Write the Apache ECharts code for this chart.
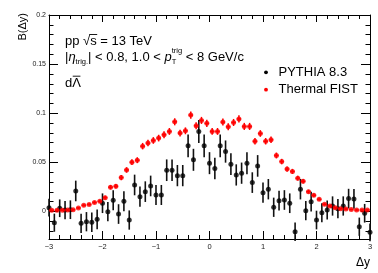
<!DOCTYPE html>
<html><head><meta charset="utf-8">
<script src="https://cdn.jsdelivr.net/npm/echarts@6/dist/echarts.min.js"></script>
<style>html,body{margin:0;padding:0;background:#fff}#c{width:378px;height:273px}</style>
</head><body><div id="c"></div>
<script>
// ---- data ----
const redX = [-2.95,-2.85,-2.75,-2.65,-2.55,-2.45,-2.35,-2.25,-2.15,-2.05,
  -1.95,-1.85,-1.75,-1.65,-1.55,-1.45,-1.35,-1.25,-1.15,-1.05,
  -0.95,-0.85,-0.75,-0.65,-0.55,-0.45,-0.35,-0.25,-0.15,-0.05,
  0.05,0.15,0.25,0.35,0.45,0.55,0.65,0.75,0.85,0.95,
  1.05,1.15,1.25,1.35,1.45,1.55,1.65,1.75,1.85,1.95,
  2.05,2.15,2.25,2.35,2.45,2.55,2.65,2.75,2.85,2.95];
const redY = [0.0012,0.0012,0.0012,0.0015,0.0018,0.0036,0.0063,0.0072,0.0092,0.0104,
  0.0141,0.0247,0.0257,0.0345,0.0423,0.0502,0.0522,0.0665,0.0696,0.0723,
  0.0747,0.0781,0.0815,0.0913,0.0798,0.0821,0.0981,0.0872,0.0927,0.0897,
  0.0815,0.0815,0.0910,0.0862,0.0906,0.0942,0.0866,0.0866,0.0715,0.0794,
  0.0715,0.0730,0.0570,0.0508,0.0432,0.0408,0.0339,0.0308,0.0202,0.0165,
  0.0124,0.0073,0.0056,0.0038,0.0028,0.0025,0.0020,0.0015,0.0015,0.0015];
const redErr = [0.0008,0.0008,0.0008,0.0008,0.0009,0.0010,0.0012,0.0013,0.0014,0.0015,
  0.0018,0.0022,0.0023,0.0026,0.0028,0.0030,0.0030,0.0033,0.0033,0.0034,
  0.0034,0.0035,0.0035,0.0036,0.0035,0.0035,0.0037,0.0036,0.0036,0.0036,
  0.0035,0.0035,0.0036,0.0036,0.0036,0.0037,0.0036,0.0036,0.0033,0.0034,
  0.0033,0.0033,0.0030,0.0028,0.0027,0.0026,0.0024,0.0023,0.0019,0.0017,
  0.0015,0.0012,0.0011,0.0010,0.0009,0.0009,0.0008,0.0008,0.0008,0.0008];
const blackX = [-3.0,-2.9,-2.8,-2.7,-2.6,-2.5,-2.4,-2.3,-2.2,-2.1,
  -2.0,-1.9,-1.8,-1.7,-1.6,-1.5,-1.4,-1.3,-1.2,-1.1,
  -1.0,-0.9,-0.8,-0.7,-0.6,-0.5,-0.4,-0.3,-0.2,-0.1,
  0.0,0.1,0.2,0.3,0.4,0.5,0.6,0.7,0.8,0.9,
  1.0,1.1,1.2,1.3,1.4,1.5,1.6,1.7,1.8,1.9,
  2.0,2.1,2.2,2.3,2.4,2.5,2.6,2.7,2.8,2.9,3.0];
const blackY = [0.0039,-0.0114,0.0033,0.0015,0.0018,0.0209,-0.0120,-0.0104,-0.0110,-0.0080,
  0.0084,-0.0002,0.0114,-0.0026,0.0104,-0.0087,0.0270,0.0151,0.0202,0.0260,
  0.0168,0.0168,0.0420,0.0420,0.0365,0.0365,0.0668,0.0526,0.0814,0.0668,
  0.0492,0.0437,0.0668,0.0610,0.0482,0.0372,0.0390,0.0492,0.0294,0.0464,
  0.0192,0.0227,0.0043,0.0110,0.0117,0.0084,-0.0206,0.0227,0.0008,0.0100,
  -0.0087,-0.0012,0.0015,0.0056,0.0029,0.0056,0.0131,0.0128,-0.0155,-0.0018,-0.0212];
const blackErr = [0.0090,0.0092,0.0090,0.0093,0.0095,0.0105,0.0098,0.0098,0.0100,0.0100,
  0.0100,0.0098,0.0102,0.0100,0.0102,0.0098,0.0105,0.0103,0.0105,0.0105,
  0.0102,0.0102,0.0110,0.0110,0.0108,0.0108,0.0115,0.0112,0.0118,0.0115,
  0.0112,0.0110,0.0115,0.0113,0.0110,0.0108,0.0108,0.0112,0.0105,0.0110,
  0.0102,0.0104,0.0098,0.0100,0.0100,0.0100,0.0095,0.0104,0.0098,0.0100,
  0.0095,0.0097,0.0097,0.0098,0.0097,0.0098,0.0100,0.0100,0.0093,0.0095,0.0090];
const yTicks = [0, 0.05, 0.1, 0.15, 0.2];
const yMinorTicks = [-0.02,-0.01,0.01,0.02,0.03,0.04,0.06,0.07,0.08,0.09,0.11,0.12,0.13,0.14,0.16,0.17,0.18,0.19];
const seriesNames = ['PYTHIA 8.3', 'Thermal FIST'];

// ---- rendering ----
const FONT = '"Liberation Sans", Arial, sans-serif';
const mctx = document.createElement('canvas').getContext('2d');
function tw(t, size, italic) { mctx.font = (italic ? 'italic ' : '') + size + 'px ' + FONT; return mctx.measureText(t).width; }
function txt(x, y, t, size, opts) {
  opts = opts || {};
  return { type: 'text', x: x, y: y, rotation: opts.rot || 0, silent: true,
    style: { text: t, fontSize: size, fontFamily: FONT, fontStyle: opts.it ? 'italic' : 'normal',
      fill: opts.fill || '#000', align: opts.align || 'left', verticalAlign: 'middle',
      textAlign: opts.align || 'left', textVerticalAlign: 'middle' } };
}
function richLine(x0, yc, frags) {
  const els = []; let x = x0; let stackW = 0; const pos = [];
  for (const f of frags) {
    els.push(txt(x, yc + (f.dy || 0), f.t, f.s, { it: f.it }));
    const wd = tw(f.t, f.s, f.it);
    pos.push({ x: x, w: wd });
    if (f.stack) stackW = Math.max(stackW, wd);
    else { x += Math.max(wd, stackW); stackW = 0; }
  }
  return { els, pos };
}
const S = 13, SS = 7.5;
const graphics = [];
const l1 = richLine(65, 41.5, [{ t: 'pp ', s: S }, { t: '\u221A', s: S }, { t: 's', s: S }, { t: ' = 13 TeV', s: S }]);
graphics.push(...l1.els);
graphics.push({ type: 'line', silent: true, shape: { x1: l1.pos[1].x + l1.pos[1].w - 1, y1: 34.5, x2: l1.pos[2].x + l1.pos[2].w + 0.5, y2: 34.5 }, style: { stroke: '#000', lineWidth: 0.9 } });
const l2 = richLine(65, 57.5, [
  { t: '|', s: S }, { t: '\u03B7', s: S, it: true }, { t: 'trig.', s: SS, dy: 4.6 },
  { t: '| < 0.8, 1.0 < ', s: S }, { t: 'p', s: S, it: true },
  { t: 'trig', s: SS, dy: -6.8, stack: true }, { t: 'T', s: SS, dy: 4.6 },
  { t: ' < 8 GeV/c', s: S }]);
graphics.push(...l2.els);
const l3 = richLine(65, 83.3, [{ t: 'd', s: S }, { t: '\u039B', s: S }]);
graphics.push(...l3.els);
graphics.push({ type: 'line', silent: true, shape: { x1: l3.pos[1].x + 0.5, y1: 76.2, x2: l3.pos[1].x + l3.pos[1].w - 0.5, y2: 76.2 }, style: { stroke: '#000', lineWidth: 0.9 } });
const legY = [72.3, 89.7], legC = ['#000', '#ff0000'];
for (let i = 0; i < 2; i++) {
  graphics.push({ type: 'circle', silent: true, shape: { cx: 266, cy: legY[i], r: 1.9 }, style: { fill: legC[i] } });
  graphics.push(txt(278.5, legY[i], seriesNames[i], S));
}
graphics.push(txt(23, 13, 'B(\u0394y)', 11, { rot: Math.PI / 2, align: 'right' }));
graphics.push(txt(370, 262.5, '\u0394y', 12, { align: 'right' }));

function errRender(color, lw, hw) {
  return function (params, api) {
    const x = api.value(0), y = api.value(1), e = api.value(2);
    const a = api.coord([x, y + e]), b = api.coord([x, y - e]);
    const ch = [{ type: 'line', shape: { x1: a[0], y1: a[1], x2: b[0], y2: b[1] }, style: { stroke: color, lineWidth: lw } }];
    if (hw) {
      const l = api.coord([x - hw, y]), r = api.coord([x + hw, y]);
      ch.push({ type: 'line', shape: { x1: l[0], y1: l[1], x2: r[0], y2: r[1] }, style: { stroke: color, lineWidth: lw } });
    }
    return { type: 'group', children: ch };
  };
}
const blackData = blackX.map((x, i) => [x, blackY[i], blackErr[i]]);
const redData = redX.map((x, i) => [x, redY[i], redErr[i]]);

const tickLine = { color: '#000', width: 1 };
const baseX = { type: 'value', min: -3, max: 3, interval: 1, splitLine: { show: false }, minorSplitLine: { show: false } };
const baseY = { type: 'value', min: -0.028, max: 0.2, splitLine: { show: false }, minorSplitLine: { show: false }, scale: false };

const chart = echarts.init(document.getElementById('c'), null, { renderer: 'canvas' });
chart.setOption({
  animation: false,
  backgroundColor: '#fff',
  grid: { left: 49, right: 8, top: 15, bottom: 34, containLabel: false },
  xAxis: [
    Object.assign({}, baseX, { position: 'bottom',
      axisLine: { show: true, onZero: false, lineStyle: tickLine },
      axisTick: { show: true, inside: true, length: 8, lineStyle: tickLine },
      minorTick: { show: true, splitNumber: 5, length: 4, lineStyle: tickLine },
      axisLabel: { show: true, margin: 4, fontSize: 7.5, fontFamily: FONT, color: '#222',
        formatter: v => v < 0 ? '\u2212' + (-v) : String(v) } }),
    Object.assign({}, baseX, { position: 'top',
      axisLine: { show: true, onZero: false, lineStyle: tickLine },
      axisTick: { show: true, inside: true, length: 7, lineStyle: tickLine },
      minorTick: { show: true, splitNumber: 5, length: 4, lineStyle: tickLine },
      axisLabel: { show: false } })
  ],
  yAxis: [
    Object.assign({}, baseY, { position: 'left',
      axisLine: { show: true, onZero: false, lineStyle: tickLine },
      axisTick: { show: true, inside: true, length: 9, lineStyle: tickLine, customValues: yTicks },
      axisLabel: { show: true, margin: 3, fontSize: 7, fontFamily: FONT, color: '#222', customValues: yTicks,
        formatter: v => String(v) } }),
    Object.assign({}, baseY, { position: 'left',
      axisLine: { show: false, onZero: false },
      axisTick: { show: true, inside: true, length: 4.5, lineStyle: tickLine, customValues: yMinorTicks },
      axisLabel: { show: false } }),
    Object.assign({}, baseY, { position: 'right',
      axisLine: { show: true, onZero: false, lineStyle: tickLine },
      axisTick: { show: true, inside: true, length: 9, lineStyle: tickLine, customValues: yTicks },
      axisLabel: { show: false } }),
    Object.assign({}, baseY, { position: 'right',
      axisLine: { show: false, onZero: false },
      axisTick: { show: true, inside: true, length: 4.5, lineStyle: tickLine, customValues: yMinorTicks },
      axisLabel: { show: false } })
  ],
  series: [
    { type: 'custom', name: seriesNames[0] + ' err', xAxisIndex: 0, yAxisIndex: 0, data: blackData,
      renderItem: errRender('#111', 1.6, 0), encode: { x: 0, y: 1 }, silent: true, z: 2 },
    { type: 'scatter', name: seriesNames[0], xAxisIndex: 0, yAxisIndex: 0, data: blackData,
      symbol: 'circle', symbolSize: 5, itemStyle: { color: '#000' }, silent: true, z: 3 },
    { type: 'custom', name: seriesNames[1] + ' err', xAxisIndex: 0, yAxisIndex: 0, data: redData,
      renderItem: errRender('#ff0000', 1.5, 0.04), encode: { x: 0, y: 1 }, silent: true, z: 4 },
    { type: 'scatter', name: seriesNames[1], xAxisIndex: 0, yAxisIndex: 0, data: redData,
      symbol: 'circle', symbolSize: 5, itemStyle: { color: '#ff0000' }, silent: true, z: 5 }
  ],
  graphic: graphics
});
</script></body></html>
